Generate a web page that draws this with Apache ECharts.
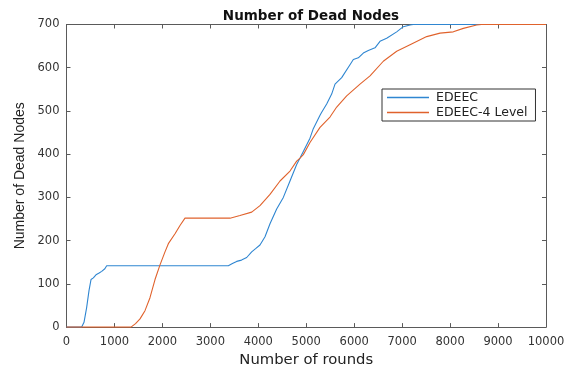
<!DOCTYPE html>
<html>
<head>
<meta charset="utf-8">
<script src="https://cdn.jsdelivr.net/npm/echarts@6/dist/echarts.min.js"></script>
<style>
  html, body { margin: 0; padding: 0; background: #fff; }
  #chart { width: 571px; height: 373px; }
</style>
</head>
<body>
<div id="chart"></div>
<script>
// Cumulative dead nodes per round for the two protocols
const edeecRounds = [0, 317, 365, 420, 470, 511, 560, 615, 680, 734, 800, 838, 3375, 3460, 3549, 3650, 3758, 3862, 3950, 4035, 4140, 4244, 4383, 4522, 4661, 4800, 4870, 4939, 5078, 5147, 5287, 5322, 5426, 5530, 5600, 5739, 5912, 5982, 6086, 6190, 6294, 6434, 6538, 6677, 6886, 7024, 7164, 7232, 10000];
const edeecDead   = [0,   0,  11,  45,  85, 110, 114, 121, 125, 129, 135, 142,  142,  147,  152,  155,  161,  174,  182,  190,  209,  239,  273,  300,  338,  376,  391,  406,  437,  459,  490,  497,  516,  539,  562,  577,  607,  619,  623,  634,  640,  646,  661,  668,  683,  695,  699,  700,   700];

const levelRounds = [0, 1345, 1440, 1533, 1637, 1741, 1846, 1950, 2054, 2124, 2263, 2367, 2471, 3410, 3618, 3862, 4035, 4244, 4453, 4661, 4800, 4870, 4939, 5078, 5287, 5495, 5635, 5843, 6121, 6330, 6607, 6886, 7164, 7512, 7790, 8067, 8276, 8554, 8658, 10000];
const levelDead   = [0,    0,    8,   19,   38,   68,  110,  144,  174,  193,  216,  235,  252,  252,  258,  266,  281,  307,  338,  361,  384,  391,  399,  427,  462,  486,  509,  535,  562,  581,  615,  638,  653,  672,  680,  683,  691,  699,  700,   700];

const xTicks = { min: 0, max: 10000, step: 1000 };
const yTicks = { min: 0, max: 700, step: 100 };

const pairs = (xs, ys) => xs.map((x, i) => [x, ys[i]]);

const axisColor = '#5a5a5a';
const labelColor = '#333';
const font = 'DejaVu Sans, Verdana, sans-serif';

const chart = echarts.init(document.getElementById('chart'), null, { renderer: 'canvas' });

// plain value axis used for the boxed frame; labels only on bottom/left
const frameAxis = (extra) => Object.assign({
  type: 'value',
  axisLine: { show: true, onZero: false, lineStyle: { color: axisColor, width: 1 } },
  axisTick: { show: true, inside: true, length: 4, lineStyle: { color: axisColor } },
  splitLine: { show: false },
  axisLabel: { show: false }
}, extra);

const tickLabel = {
  show: true, margin: 8, fontFamily: font, fontSize: 11.5, color: labelColor,
  formatter: (v) => String(v)
};

chart.setOption({
  animation: false,
  backgroundColor: '#fff',
  title: {
    text: 'Number of Dead Nodes',
    left: 306, top: 4, textAlign: 'center',
    textStyle: { fontFamily: font, fontSize: 13.5, fontWeight: 'bold', color: '#111' }
  },
  grid: { left: 66.5, right: 25, top: 24.5, bottom: 41.5, containLabel: false },
  legend: {
    orient: 'vertical',
    left: 382, top: 89,
    backgroundColor: '#fff',
    borderColor: '#333', borderWidth: 1, borderRadius: 0,
    padding: [2, 8, 2, 5],
    itemGap: 2,
    itemWidth: 42, itemHeight: 1.5,
    icon: 'rect',
    textStyle: { fontFamily: font, fontSize: 12.5, color: '#222', padding: [0, 0, 0, 2] },
    data: ['EDEEC', 'EDEEC-4 Level']
  },
  xAxis: [
    frameAxis({
      position: 'bottom',
      min: xTicks.min, max: xTicks.max, interval: xTicks.step,
      name: 'Number of rounds', nameLocation: 'middle', nameGap: 23,
      nameTextStyle: { fontFamily: font, fontSize: 14.8, color: '#222' },
      axisLabel: Object.assign({}, tickLabel, { margin: 9 })
    }),
    frameAxis({ position: 'top', min: xTicks.min, max: xTicks.max, interval: xTicks.step })
  ],
  yAxis: [
    frameAxis({
      position: 'left',
      min: yTicks.min, max: yTicks.max, interval: yTicks.step,
      name: 'Number of Dead Nodes', nameLocation: 'middle', nameGap: 38,
      nameTextStyle: { fontFamily: 'Liberation Sans, Arial, sans-serif', fontSize: 14, color: '#222' },
      axisLabel: Object.assign({}, tickLabel, { margin: 7 })
    }),
    frameAxis({ position: 'right', min: yTicks.min, max: yTicks.max, interval: yTicks.step })
  ],
  series: [
    {
      name: 'EDEEC', type: 'line', xAxisIndex: 0, yAxisIndex: 0,
      data: pairs(edeecRounds, edeecDead),
      showSymbol: false, symbol: 'none',
      lineStyle: { color: '#2f86d1', width: 1.1 },
      itemStyle: { color: '#2f86d1' }
    },
    {
      name: 'EDEEC-4 Level', type: 'line', xAxisIndex: 0, yAxisIndex: 0,
      data: pairs(levelRounds, levelDead),
      showSymbol: false, symbol: 'none',
      lineStyle: { color: '#e0622c', width: 1.1 },
      itemStyle: { color: '#e0622c' }
    }
  ]
});
</script>
</body>
</html>
